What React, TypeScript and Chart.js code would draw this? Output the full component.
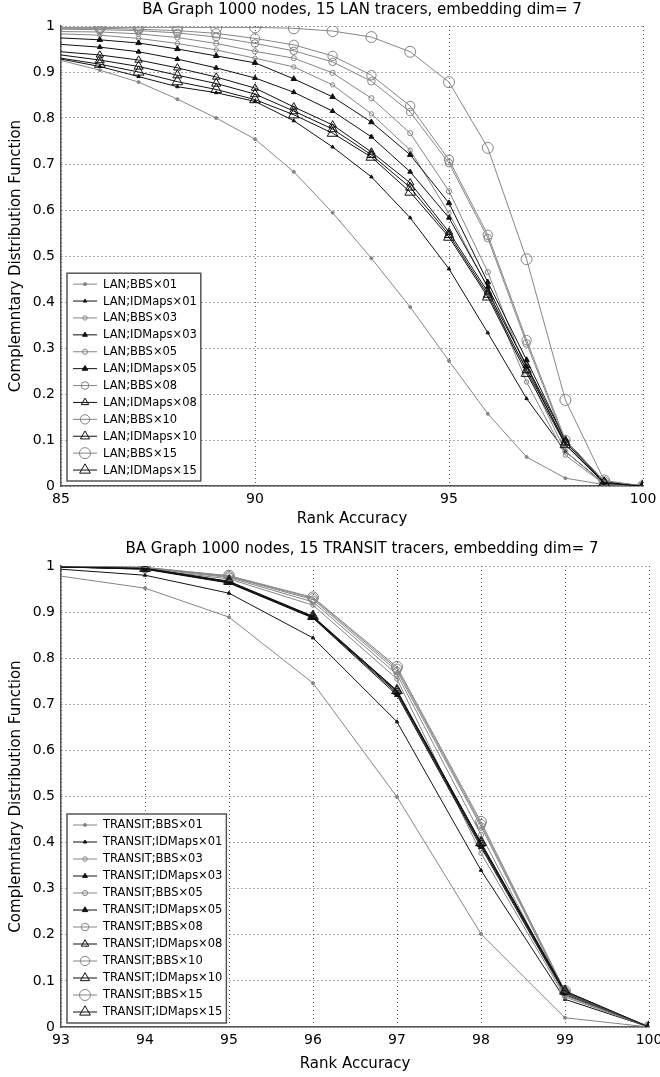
import React, { useEffect, useRef } from 'react';
import { Chart, registerables } from 'chart.js';

Chart.register(...registerables);

const FONT = '"DejaVu Sans", "Liberation Sans", Arial, sans-serif';
const GREY = '#858585';
const BLACK = '#111111';
const GRID = '#555555';
const AXIS = '#555555';

// ---------- data: LAN chart ----------
const LAN_X = [85, 86, 87, 88, 89, 90, 91, 92, 93, 94, 95, 96, 97, 98, 99, 100];
const LAN_BBS01 = [0.925, 0.904, 0.878, 0.841, 0.8, 0.754, 0.683, 0.594, 0.495, 0.389, 0.272, 0.157, 0.063, 0.017, 0.003, 0];
const LAN_IDMAPS01 = [0.928, 0.912, 0.89, 0.868, 0.855, 0.836, 0.794, 0.737, 0.672, 0.583, 0.472, 0.333, 0.19, 0.075, 0.005, 0];
const LAN_BBS03 = [0.983, 0.98, 0.973, 0.962, 0.948, 0.93, 0.911, 0.872, 0.809, 0.73, 0.593, 0.43, 0.226, 0.067, 0.004, 0];
const LAN_IDMAPS03 = [0.96, 0.954, 0.944, 0.928, 0.909, 0.887, 0.856, 0.815, 0.759, 0.683, 0.583, 0.433, 0.26, 0.09, 0.006, 0];
const LAN_BBS05 = [0.988, 0.987, 0.983, 0.975, 0.962, 0.945, 0.93, 0.898, 0.843, 0.767, 0.641, 0.465, 0.25, 0.075, 0.005, 0];
const LAN_IDMAPS05 = [0.974, 0.97, 0.963, 0.95, 0.935, 0.92, 0.885, 0.846, 0.791, 0.72, 0.615, 0.443, 0.274, 0.1, 0.008, 0];
const LAN_BBS08 = [0.993, 0.992, 0.99, 0.985, 0.976, 0.962, 0.946, 0.922, 0.88, 0.813, 0.702, 0.539, 0.31, 0.095, 0.008, 0];
const LAN_IDMAPS08 = [0.944, 0.937, 0.926, 0.909, 0.889, 0.865, 0.824, 0.785, 0.726, 0.659, 0.552, 0.422, 0.262, 0.1, 0.01, 0];
const LAN_BBS10 = [0.995, 0.995, 0.993, 0.99, 0.984, 0.973, 0.959, 0.935, 0.893, 0.826, 0.709, 0.546, 0.317, 0.1, 0.01, 0];
const LAN_IDMAPS10 = [0.937, 0.926, 0.912, 0.893, 0.875, 0.852, 0.815, 0.776, 0.72, 0.649, 0.546, 0.416, 0.252, 0.095, 0.008, 0];
const LAN_BBS15 = [0.997, 0.997, 0.997, 0.997, 0.997, 0.997, 0.995, 0.989, 0.976, 0.944, 0.878, 0.735, 0.493, 0.187, 0.012, 0];
const LAN_IDMAPS15 = [0.93, 0.917, 0.9, 0.879, 0.862, 0.84, 0.807, 0.767, 0.715, 0.639, 0.541, 0.411, 0.245, 0.09, 0.006, 0];
const LAN_X_TICKS = [85, 90, 95, 100];
const LAN_X_TICK_LABELS = ['85', '90', '95', '100'];

// ---------- data: TRANSIT chart ----------
const TRANSIT_X = [93, 94, 95, 96, 97, 98, 99, 100];
const TRANSIT_BBS01 = [0.978, 0.952, 0.889, 0.746, 0.499, 0.202, 0.02, 0];
const TRANSIT_IDMAPS01 = [0.993, 0.98, 0.941, 0.844, 0.662, 0.34, 0.06, 0];
const TRANSIT_BBS03 = [0.998, 0.993, 0.972, 0.915, 0.755, 0.377, 0.065, 0];
const TRANSIT_IDMAPS03 = [0.998, 0.993, 0.963, 0.887, 0.72, 0.39, 0.07, 0];
const TRANSIT_BBS05 = [0.999, 0.995, 0.975, 0.922, 0.765, 0.417, 0.068, 0];
const TRANSIT_IDMAPS05 = [0.998, 0.994, 0.964, 0.888, 0.724, 0.394, 0.073, 0];
const TRANSIT_BBS08 = [1.0, 0.996, 0.977, 0.927, 0.772, 0.435, 0.074, 0];
const TRANSIT_IDMAPS08 = [0.998, 0.994, 0.965, 0.889, 0.727, 0.397, 0.075, 0];
const TRANSIT_BBS10 = [1.0, 0.997, 0.978, 0.93, 0.777, 0.44, 0.076, 0];
const TRANSIT_IDMAPS10 = [0.998, 0.995, 0.966, 0.89, 0.729, 0.399, 0.077, 0];
const TRANSIT_BBS15 = [1.0, 0.997, 0.979, 0.932, 0.781, 0.445, 0.078, 0];
const TRANSIT_IDMAPS15 = [0.998, 0.995, 0.967, 0.891, 0.73, 0.4, 0.078, 0];
const TRANSIT_X_TICKS = [93, 94, 95, 96, 97, 98, 99, 100];
const TRANSIT_X_TICK_LABELS = ['93', '94', '95', '96', '97', '98', '99', '100'];

const SERIES_NAMES = [
  'BBS×01', 'IDMaps×01', 'BBS×03', 'IDMaps×03', 'BBS×05', 'IDMaps×05',
  'BBS×08', 'IDMaps×08', 'BBS×10', 'IDMaps×10', 'BBS×15', 'IDMaps×15',
];
const Y_TICKS = [0, 0.1, 0.2, 0.3, 0.4, 0.5, 0.6, 0.7, 0.8, 0.9, 1];
const Y_TICK_LABELS = ['0', '0.1', '0.2', '0.3', '0.4', '0.5', '0.6', '0.7', '0.8', '0.9', '1'];

const LAN_SERIES = [
  LAN_BBS01, LAN_IDMAPS01, LAN_BBS03, LAN_IDMAPS03, LAN_BBS05, LAN_IDMAPS05,
  LAN_BBS08, LAN_IDMAPS08, LAN_BBS10, LAN_IDMAPS10, LAN_BBS15, LAN_IDMAPS15,
];
const TRANSIT_SERIES = [
  TRANSIT_BBS01, TRANSIT_IDMAPS01, TRANSIT_BBS03, TRANSIT_IDMAPS03, TRANSIT_BBS05, TRANSIT_IDMAPS05,
  TRANSIT_BBS08, TRANSIT_IDMAPS08, TRANSIT_BBS10, TRANSIT_IDMAPS10, TRANSIT_BBS15, TRANSIT_IDMAPS15,
];

// ---------- styles ----------
type MarkerStyle = { color: string; shape: 'circle' | 'triangle'; r: number; filled: boolean };
const STYLES: MarkerStyle[] = [
  { color: GREY, shape: 'circle', r: 1.5, filled: true },
  { color: BLACK, shape: 'triangle', r: 2, filled: true },
  { color: GREY, shape: 'circle', r: 2.2, filled: false },
  { color: BLACK, shape: 'triangle', r: 2.8, filled: true },
  { color: GREY, shape: 'circle', r: 2.6, filled: false },
  { color: BLACK, shape: 'triangle', r: 3.2, filled: true },
  { color: GREY, shape: 'circle', r: 3.8, filled: false },
  { color: BLACK, shape: 'triangle', r: 4.3, filled: false },
  { color: GREY, shape: 'circle', r: 4.7, filled: false },
  { color: BLACK, shape: 'triangle', r: 5.3, filled: false },
  { color: GREY, shape: 'circle', r: 5.5, filled: false },
  { color: BLACK, shape: 'triangle', r: 6.2, filled: false },
];

function drawMarker(ctx: CanvasRenderingContext2D, st: MarkerStyle, x: number, y: number) {
  ctx.save();
  ctx.beginPath();
  if (st.shape === 'circle') {
    ctx.arc(x, y, st.r, 0, Math.PI * 2);
  } else {
    let rad = 0;
    for (let k = 0; k < 3; k++) {
      const px = x + Math.sin(rad) * st.r;
      const py = y - Math.cos(rad) * st.r;
      if (k === 0) ctx.moveTo(px, py);
      else ctx.lineTo(px, py);
      rad += (2 * Math.PI) / 3;
    }
    ctx.closePath();
  }
  ctx.lineWidth = 1;
  ctx.strokeStyle = st.color;
  if (st.filled) {
    ctx.fillStyle = st.color;
    ctx.fill();
  }
  ctx.stroke();
  ctx.restore();
}

const figTitle = {
  id: 'figTitle',
  afterDraw(chart: any, _args: any, opts: any) {
    const { ctx, chartArea } = chart;
    ctx.save();
    ctx.font = `${opts.size}px ${FONT}`;
    ctx.fillStyle = '#000';
    ctx.textAlign = 'center';
    ctx.textBaseline = 'middle';
    ctx.fillText(opts.text, (chartArea.left + chartArea.right) / 2 + opts.dx, opts.y);
    ctx.restore();
  },
};

const matlabLegend = {
  id: 'matlabLegend',
  afterDraw(chart: any, _args: any, opts: any) {
    const { ctx, chartArea } = chart;
    const ds = chart.data.datasets;
    ctx.save();
    ctx.font = `${opts.fontSize}px ${FONT}`;
    const textW = Math.max(...ds.map((d: any) => ctx.measureText(d.label).width));
    const h = ds.length * opts.rowH + 2 * opts.pad;
    const left = chartArea.left + opts.offsetX;
    const top = chartArea.bottom - opts.offsetBottom - h;
    const w = opts.textX + textW + opts.padRight;
    ctx.fillStyle = '#ffffff';
    ctx.fillRect(left, top, w, h);
    ctx.strokeStyle = '#555555';
    ctx.lineWidth = 1.5;
    ctx.strokeRect(left, top, w, h);
    ds.forEach((d: any, i: number) => {
      const y = top + opts.pad + (i + 0.5) * opts.rowH;
      const st: MarkerStyle = d.markerStyle;
      ctx.strokeStyle = st.color;
      ctx.lineWidth = 1;
      ctx.beginPath();
      ctx.moveTo(left + 6, y);
      ctx.lineTo(left + 30, y);
      ctx.stroke();
      drawMarker(ctx, st, left + 18, y);
      ctx.fillStyle = '#000';
      ctx.textBaseline = 'middle';
      ctx.textAlign = 'left';
      ctx.fillText(d.label, left + opts.textX, y + 0.5);
    });
    ctx.restore();
  },
};

type Spec = {
  height: number;
  title: string;
  prefix: string;
  xs: number[];
  series: number[][];
  xTicks: number[];
  xTickLabels: string[];
  padRight: number;
  padTop: number;
  titleY: number;
  titleDx: number;
  xAxisH: number;
  xTitleBottom: number;
  legendOffsetBottom: number;
  legendRowH: number;
};

function makeConfig(p: Spec): any {
  const datasets = p.series.map((vals, i) => {
    const st = STYLES[i];
    return {
      label: `${p.prefix};${SERIES_NAMES[i]}`,
      data: p.xs.map((x, j) => ({ x, y: vals[j] })),
      markerStyle: st,
      borderColor: st.color,
      borderWidth: 1,
      backgroundColor: st.filled ? st.color : 'rgba(0,0,0,0)',
      pointStyle: st.shape,
      pointRadius: (c: any) => (c.dataIndex === 0 ? 0 : st.r),
      pointHoverRadius: (c: any) => (c.dataIndex === 0 ? 0 : st.r),
      pointBorderColor: st.color,
      pointBackgroundColor: st.filled ? st.color : 'rgba(0,0,0,0)',
      pointBorderWidth: 1,
      fill: false,
      tension: 0,
      order: p.series.length - i,
    };
  });
  const tickFont = { family: FONT, size: 14 };
  const titleFont = { family: FONT, size: 15 };
  return {
    type: 'line',
    data: { datasets },
    options: {
      responsive: false,
      animation: false,
      devicePixelRatio: 1,
      events: [],
      layout: { padding: { left: 0, right: p.padRight, top: p.padTop, bottom: 0 } },
      plugins: {
        legend: { display: false },
        tooltip: { enabled: false },
        title: { display: false },
        figTitle: { text: p.title, size: 15, y: p.titleY, dx: p.titleDx },
        matlabLegend: {
          fontSize: 11.5,
          rowH: p.legendRowH,
          pad: 2.5,
          offsetX: 6,
          offsetBottom: p.legendOffsetBottom,
          textX: 36,
          padRight: 4,
        },
      },
      scales: {
        x: {
          type: 'linear',
          min: p.xTicks[0],
          max: p.xTicks[p.xTicks.length - 1],
          afterBuildTicks: (s: any) => {
            s.ticks = p.xTicks.map((v) => ({ value: v }));
          },
          ticks: {
            callback: (_v: any, i: number) => p.xTickLabels[i],
            font: tickFont,
            color: '#000',
            padding: 5,
            maxRotation: 0,
            autoSkip: false,
          },
          grid: { color: GRID, drawTicks: false, lineWidth: 1 },
          border: { display: true, color: AXIS, width: 1.5, dash: [1, 3] },
          title: {
            display: true,
            text: 'Rank Accuracy',
            font: titleFont,
            color: '#000',
            padding: { top: 0, bottom: p.xTitleBottom },
          },
          afterFit: (s: any) => {
            s.height = p.xAxisH;
            s.paddingLeft = 0;
            s.paddingRight = 0;
          },
        },
        y: {
          type: 'linear',
          min: 0,
          max: 1,
          afterBuildTicks: (s: any) => {
            s.ticks = Y_TICKS.map((v) => ({ value: v }));
          },
          ticks: {
            callback: (_v: any, i: number) => Y_TICK_LABELS[i],
            font: tickFont,
            color: '#000',
            padding: 6,
            autoSkip: false,
          },
          grid: { color: GRID, drawTicks: false, lineWidth: 1 },
          border: { display: true, color: AXIS, width: 1.5, dash: [1, 3] },
          title: {
            display: true,
            text: 'Complemntary Distribution Function',
            font: titleFont,
            color: '#000',
            padding: { top: 7, bottom: 0 },
          },
          afterFit: (s: any) => {
            s.width = 61;
            s.paddingTop = 0;
            s.paddingBottom = 0;
          },
        },
      },
    },
    plugins: [matlabLegend, figTitle],
  };
}

function CdfChart({ spec }: { spec: Spec }) {
  const ref = useRef<HTMLCanvasElement>(null);
  useEffect(() => {
    const chart = new Chart(ref.current as HTMLCanvasElement, makeConfig(spec));
    return () => chart.destroy();
  }, [spec]);
  return (
    <canvas
      ref={ref}
      width={660}
      height={spec.height}
      style={{ display: 'block', width: 660, height: spec.height }}
    />
  );
}

const LAN_SPEC: Spec = {
  height: 538,
  title: 'BA Graph 1000 nodes, 15 LAN tracers, embedding dim= 7',
  prefix: 'LAN',
  xs: LAN_X,
  series: LAN_SERIES,
  xTicks: LAN_X_TICKS,
  xTickLabels: LAN_X_TICK_LABELS,
  padRight: 17,
  padTop: 26,
  titleY: 10,
  titleDx: 10,
  xAxisH: 52,
  xTitleBottom: 10,
  legendOffsetBottom: 5,
  legendRowH: 16.9,
};

const TRANSIT_SPEC: Spec = {
  height: 539,
  title: 'BA Graph 1000 nodes, 15 TRANSIT tracers, embedding dim= 7',
  prefix: 'TRANSIT',
  xs: TRANSIT_X,
  series: TRANSIT_SERIES,
  xTicks: TRANSIT_X_TICKS,
  xTickLabels: TRANSIT_X_TICK_LABELS,
  padRight: 11,
  padTop: 28,
  titleY: 11,
  titleDx: 7,
  xAxisH: 50,
  xTitleBottom: 4,
  legendOffsetBottom: 4,
  legendRowH: 17,
};

export default function App() {
  return (
    <div style={{ position: 'absolute', left: 0, top: 0, width: 660, height: 1077, background: '#fff' }}>
      <CdfChart spec={LAN_SPEC} />
      <CdfChart spec={TRANSIT_SPEC} />
    </div>
  );
}
